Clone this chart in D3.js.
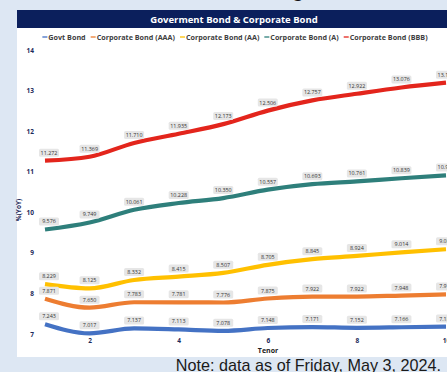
<!DOCTYPE html>
<head>
  <meta charset="utf-8">
  <script src="https://d3js.org/d3.v7.min.js"></script>
  <style>
    body { margin:0; background:#dde7f3; }
    svg { display:block; }
  </style>
</head>
<body>
<script>
  // chart values
  var tenors = [1, 2, 3, 4, 5, 6, 7, 8, 9, 10];
  var seriesNames = ["Govt Bond", "Corporate Bond (AAA)", "Corporate Bond (AA)", "Corporate Bond (A)", "Corporate Bond (BBB)"];
  var seriesColors = ["#4472c4", "#ed7d31", "#ffc000", "#2e7f7b", "#e3251c"];
  var govt = [7.243, 7.017, 7.137, 7.113, 7.078, 7.148, 7.171, 7.152, 7.166, 7.184];
  var aaa  = [7.871, 7.650, 7.783, 7.781, 7.776, 7.875, 7.922, 7.922, 7.948, 7.975];
  var aa   = [8.229, 8.125, 8.332, 8.415, 8.507, 8.705, 8.845, 8.924, 9.014, 9.089];
  var singleA = [9.576, 9.749, 10.061, 10.228, 10.350, 10.557, 10.693, 10.761, 10.839, 10.908];
  var bbb  = [11.272, 11.369, 11.710, 11.935, 12.173, 12.506, 12.757, 12.922, 13.076, 13.195];
  var yTicks = [7, 8, 9, 10, 11, 12, 13, 14];
  var xTicks = [2, 4, 6, 8, 10];

  var allSeries = [govt, aaa, aa, singleA, bbb];

  var width = 447, height = 372;
  var svg = d3.select("body").append("svg")
    .attr("width", width)
    .attr("height", height);

  svg.append("rect").attr("width", width).attr("height", height).attr("fill", "#dde7f3");

  // cut-off heading descender at the very top
  svg.append("text")
    .attr("x", 292).attr("y", -3)
    .attr("font-family", "Liberation Sans, Arial")
    .attr("font-size", 20).attr("font-weight", "bold")
    .attr("fill", "#111")
    .text("g");

  // white panel
  svg.append("rect")
    .attr("x", 17).attr("y", 10)
    .attr("width", 440).attr("height", 347)
    .attr("fill", "#fff");

  // title bar
  svg.append("rect")
    .attr("x", 17).attr("y", 10)
    .attr("width", 440).attr("height", 18)
    .attr("fill", "#0b1f5c");
  svg.append("text")
    .attr("x", 234).attr("y", 22.5)
    .attr("text-anchor", "middle")
    .attr("font-family", "Open Sans, sans-serif")
    .attr("font-size", 9.5).attr("font-weight", "bold")
    .attr("fill", "#fff")
    .text("Goverment Bond & Corporate Bond");

  // legend
  var legend = svg.append("g").attr("font-family", "Open Sans, sans-serif")
    .attr("font-size", 7.2).attr("font-weight", "bold").attr("fill", "#404040");
  var lx = 0;
  seriesNames.forEach(function(name, i) {
    legend.append("line")
      .attr("x1", lx).attr("x2", lx + 5)
      .attr("y1", 37).attr("y2", 37)
      .attr("stroke", seriesColors[i]).attr("stroke-width", 1.3);
    var t = legend.append("text")
      .attr("x", lx + 6).attr("y", 39.5)
      .text(name);
    lx += 6 + t.node().getComputedTextLength() + 5;
  });
  legend.attr("transform", "translate(" + (235 - (lx - 5) / 2) + ",0)");

  var x = d3.scaleLinear().domain([1, 10]).range([45, 446]);
  var y = d3.scaleLinear().domain([7, 14]).range([334, 50]);

  // y axis
  var yAxis = svg.append("g")
    .attr("transform", "translate(37,0)")
    .call(d3.axisLeft(y).tickValues(yTicks).tickSize(0).tickFormat(d3.format("d")));
  yAxis.select(".domain").remove();
  yAxis.selectAll("text")
    .attr("font-family", "Open Sans, sans-serif")
    .attr("font-size", 6.5).attr("font-weight", "bold")
    .attr("fill", "#1d2a5a");

  var xAxis = svg.append("g")
    .attr("transform", "translate(0,335)")
    .call(d3.axisBottom(x).tickValues(xTicks).tickSize(0).tickFormat(d3.format("d")));
  xAxis.select(".domain").remove();
  xAxis.selectAll("text")
    .attr("font-family", "Open Sans, sans-serif")
    .attr("font-size", 6.5).attr("font-weight", "bold")
    .attr("fill", "#1d2a5a");

  svg.append("text")
    .attr("transform", "translate(21,210) rotate(-90)")
    .attr("text-anchor", "middle")
    .attr("font-family", "Open Sans, sans-serif")
    .attr("font-size", 6.5).attr("font-weight", "bold")
    .attr("fill", "#1d2a5a")
    .text("%(YoY)");

  svg.append("text")
    .attr("x", 268).attr("y", 352.5)
    .attr("text-anchor", "middle")
    .attr("font-family", "Open Sans, sans-serif")
    .attr("font-size", 7).attr("font-weight", "bold")
    .attr("fill", "#222")
    .text("Tenor");

  // lines
  var line = d3.line()
    .x(function(d, i) { return x(tenors[i]); })
    .y(function(d) { return y(d); })
    .curve(d3.curveMonotoneX);

  var plot = svg.append("g");
  allSeries.forEach(function(vals, s) {
    plot.append("path")
      .datum(vals)
      .attr("d", line)
      .attr("fill", "none")
      .attr("stroke", seriesColors[s])
      .attr("stroke-width", 4.2)
      .attr("stroke-linecap", "butt");
  });

  // data labels
  var labels = svg.append("g")
    .attr("font-family", "Open Sans, sans-serif")
    .attr("font-size", 5.4)
    .attr("fill", "#333");
  allSeries.forEach(function(vals, s) {
    vals.forEach(function(v, i) {
      var cx = Math.max(x(tenors[i]), 49);
      var cy = y(v) - 8;
      labels.append("rect")
        .attr("x", cx - 10).attr("y", cy - 4)
        .attr("width", 20).attr("height", 8)
        .attr("rx", 1.5)
        .attr("fill", "#e6e6e6");
      labels.append("text")
        .attr("x", cx).attr("y", cy + 2)
        .attr("text-anchor", "middle")
        .text(d3.format(".3f")(v));
    });
  });

  // note
  svg.append("text")
    .attr("x", 441).attr("y", 370.5)
    .attr("text-anchor", "end")
    .attr("font-family", "Liberation Sans, Arial")
    .attr("font-size", 16.2)
    .attr("fill", "#1a1a1a")
    .text("Note: data as of Friday, May 3, 2024.");
</script>
</body>
